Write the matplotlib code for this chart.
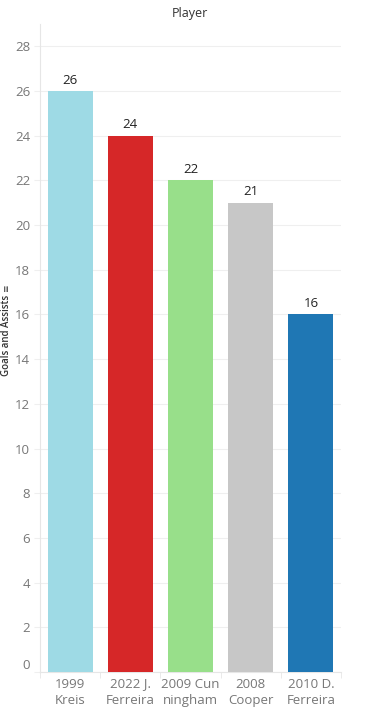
import matplotlib.pyplot as plt
import numpy as np

# data
players = ["1999\nKreis", "2022 J.\nFerreira", "2009 Cun\nningham", "2008\nCooper", "2010 D.\nFerreira"]
goals_assists = [26, 24, 22, 21, 16]
colors = ["#9edae5", "#d62728", "#98df8a", "#c7c7c7", "#1f77b4"]
y_ticks = list(range(0, 29, 2))

plt.rcParams["font.family"] = ["Open Sans", "DejaVu Sans"]

fig = plt.figure(figsize=(3.78, 7.18), dpi=100)
W, H = 378, 718
ax = fig.add_axes([40 / W, (H - 672) / H, 301 / W, (672 - 24) / H])

x = np.arange(len(players))
ax.bar(x, goals_assists, width=0.75, color=colors, zorder=3)
for xi, v in zip(x, goals_assists):
    ax.text(xi, v + 0.2, str(v), ha="center", va="bottom", fontsize=9.5, color="#222222")

ax.set_xlim(-0.5, len(players) - 0.5)
ax.set_ylim(0, 29)
ax.set_yticks(y_ticks)
ax.set_yticklabels([str(t) for t in y_ticks])
ax.set_xticks(x)
ax.set_xticklabels(players)
ax.set_xticks(np.arange(-0.5, len(players), 1), minor=True)

ax.grid(axis="y", color="#efefef", linewidth=0.8, zorder=0)
ax.tick_params(axis="y", length=4, color="#efefef", labelsize=9.5, labelcolor="#777777", pad=3)
ax.tick_params(axis="x", which="major", length=0, labelsize=9.5, labelcolor="#777777", pad=4)
ax.tick_params(axis="x", which="minor", length=4, color="#e6e6e6")
for lbl in ax.get_xticklabels():
    lbl.set_linespacing(1.3)
# Tableau nudges the bottom label up so it stays inside
ax.get_yticklabels()[0].set_verticalalignment("bottom")

for s in ["top", "right"]:
    ax.spines[s].set_visible(False)
ax.spines["left"].set_color("#e6e6e6")
ax.spines["bottom"].set_color("#e6e6e6")

fig.text(7 / W, 1 - 335 / H, "Goals and Assists", rotation=90, ha="center", va="center",
         fontsize=7, color="#333333", fontweight="semibold")
fig.text(7 / W, 1 - 288 / H, "\u2261", rotation=90, ha="center", va="center", fontsize=6.5, color="#333333")
fig.text(190 / W, 1 - 14 / H, "Player", ha="center", va="center", fontsize=9, color="#333333")

fig.savefig("out.png", dpi=100)
